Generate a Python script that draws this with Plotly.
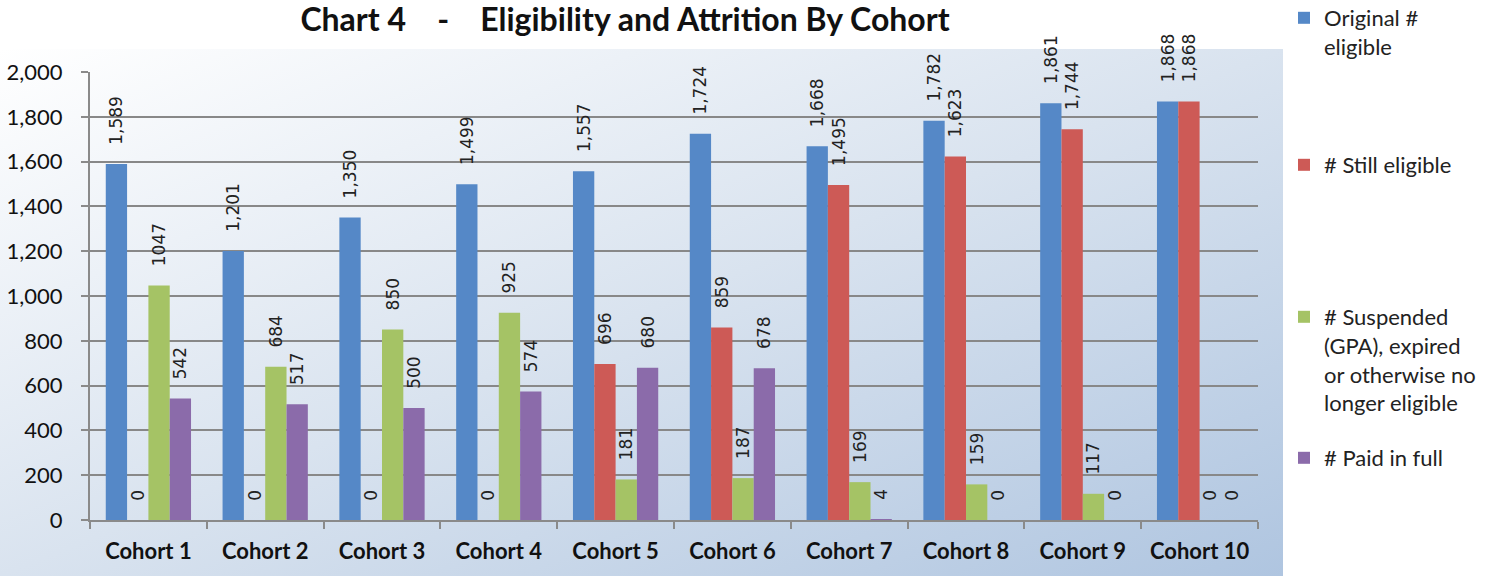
import base64
import plotly.graph_objects as go

categories = ["Cohort 1", "Cohort 2", "Cohort 3", "Cohort 4", "Cohort 5",
              "Cohort 6", "Cohort 7", "Cohort 8", "Cohort 9", "Cohort 10"]
original = [1589, 1201, 1350, 1499, 1557, 1724, 1668, 1782, 1861, 1868]
still = [0, 0, 0, 0, 696, 859, 1495, 1623, 1744, 1868]
suspended = [1047, 684, 850, 925, 181, 187, 169, 159, 117, 0]
paid = [542, 517, 500, 574, 680, 678, 4, 0, 0, 0]

series_names = ["Original #<br>eligible", "# Still eligible",
                "# Suspended<br>(GPA), expired<br>or otherwise no<br>longer eligible",
                "# Paid in full"]
colors = ["#5588c7", "#cd5a56", "#a5c365", "#8b6baa"]
formats = ["   %{y:,}", "   %{y:,}", "   %{y:d}", "   %{y:d}"]
legends = ["legend", "legend2", "legend3", "legend4"]

fig = go.Figure()
for name, vals, col, fmt, lg in zip(series_names, [original, still, suspended, paid],
                                    colors, formats, legends):
    fig.add_trace(go.Bar(
        x=categories, y=vals, name=name, legend=lg,
        marker=dict(color=col, line=dict(width=0)),
        texttemplate=fmt, textposition="outside", textangle=-90,
        constraintext="none",
        textfont=dict(family="DejaVu Sans", size=17, color="#222222"),
        cliponaxis=False,
    ))

svg = ("<svg xmlns='http://www.w3.org/2000/svg' width='1283' height='527' preserveAspectRatio='none'>"
       "<defs><linearGradient id='g' x1='0' y1='0' x2='1' y2='1'>"
       "<stop offset='0' stop-color='#ffffff'/>"
       "<stop offset='0.5' stop-color='#d9e3ef'/>"
       "<stop offset='1' stop-color='#afc5e0'/>"
       "</linearGradient></defs>"
       "<rect width='100%' height='100%' fill='url(#g)'/></svg>")
src = "data:image/svg+xml;base64," + base64.b64encode(svg.encode()).decode()

L, R, T, B = 90, 1258, 72, 520
W, H = 1505, 576
pw, ph = R - L, B - T

fig.add_layout_image(dict(
    source=src, xref="paper", yref="paper",
    x=(0 - L) / pw, y=(B - 49) / ph,
    sizex=1283 / pw, sizey=(576 - 49) / ph,
    sizing="stretch", layer="below", xanchor="left", yanchor="top",
))

legend_font = dict(family="Lato", size=22, color="#222222")
def lg_pos(px, py):
    return dict(x=(px - L) / pw, y=(B - py) / ph, xanchor="left", yanchor="top",
                font=legend_font, bgcolor="rgba(0,0,0,0)", valign="top",
                itemwidth=30, tracegroupgap=0)

fig.update_layout(
    width=W, height=H,
    margin=dict(l=L, r=W - R, t=T, b=H - B, autoexpand=False),
    paper_bgcolor="white", plot_bgcolor="rgba(0,0,0,0)",
    barmode="group", bargap=0.27, bargroupgap=0,
    title=dict(text="<b>Chart 4    -    Eligibility and Attrition By Cohort</b>",
               x=625 / W, xanchor="center", xref="container",
               y=1 - 20 / H, yanchor="middle",
               font=dict(family="Lato", size=32, color="#111111")),
    showlegend=True,
    legend=lg_pos(1284, -3),
    legend2=lg_pos(1284, 144),
    legend3=lg_pos(1284, 296),
    legend4=lg_pos(1284, 437),
    xaxis=dict(
        showline=True, linecolor="#8a8a8a", linewidth=2,
        ticks="outside", tickson="boundaries", ticklen=7, tickcolor="#8a8a8a", tickwidth=2,
        tickfont=dict(family="Lato", size=22, color="#111111"),
        ticklabelstandoff=11,
        showgrid=False,
    ),
    yaxis=dict(
        range=[0, 2000], dtick=200, tickformat=",",
        showline=True, linecolor="#8a8a8a", linewidth=2,
        ticks="outside", ticklen=7, tickcolor="#8a8a8a", tickwidth=2,
        showgrid=True, gridcolor="#888888", gridwidth=2,
        tickfont=dict(family="Lato", size=22, color="#111111"),
        ticklabelstandoff=14,
        zeroline=False,
    ),
)
fig.update_xaxes(tickprefix="<b>", ticksuffix="</b>")

fig.write_html("out.html", post_script="document.body.style.margin='0';",
               config={"displayModeBar": False})
